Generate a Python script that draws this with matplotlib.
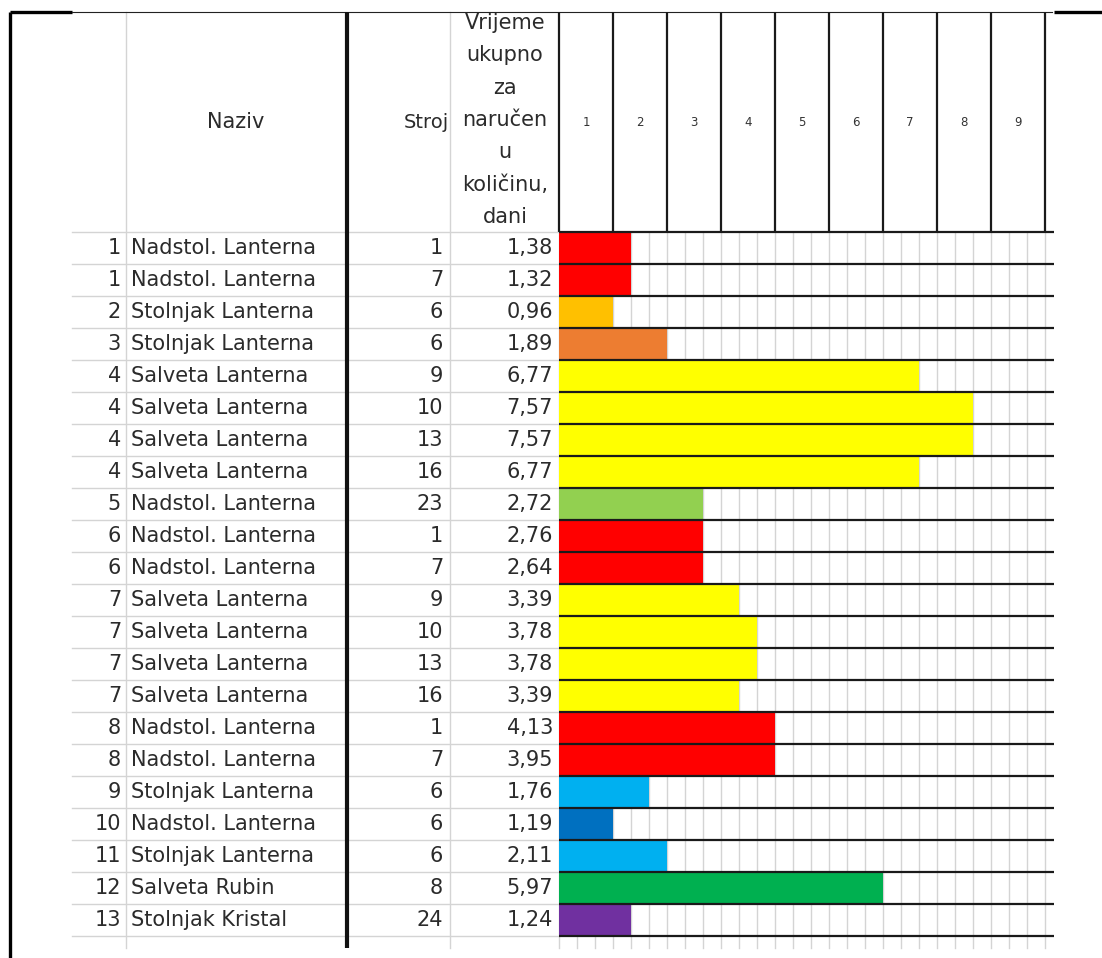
import matplotlib
matplotlib.use("Agg")
import matplotlib.pyplot as plt
import matplotlib.transforms as mtransforms

# ---------------- data ----------------
row_nums = [1, 1, 2, 3, 4, 4, 4, 4, 5, 6, 6, 7, 7, 7, 7, 8, 8, 9, 10, 11, 12, 13]
names = ["Nadstol. Lanterna", "Nadstol. Lanterna", "Stolnjak Lanterna", "Stolnjak Lanterna",
         "Salveta Lanterna", "Salveta Lanterna", "Salveta Lanterna", "Salveta Lanterna",
         "Nadstol. Lanterna", "Nadstol. Lanterna", "Nadstol. Lanterna",
         "Salveta Lanterna", "Salveta Lanterna", "Salveta Lanterna", "Salveta Lanterna",
         "Nadstol. Lanterna", "Nadstol. Lanterna", "Stolnjak Lanterna", "Nadstol. Lanterna",
         "Stolnjak Lanterna", "Salveta Rubin", "Stolnjak Kristal"]
machines = [1, 7, 6, 6, 9, 10, 13, 16, 23, 1, 7, 9, 10, 13, 16, 1, 7, 6, 6, 6, 8, 24]
durations = [1.38, 1.32, 0.96, 1.89, 6.77, 7.57, 7.57, 6.77, 2.72, 2.76, 2.64,
             3.39, 3.78, 3.78, 3.39, 4.13, 3.95, 1.76, 1.19, 2.11, 5.97, 1.24]
# bar length in shifts (1/3 day cells) as shaded in the sheet
shifts = [4, 4, 3, 6, 20, 23, 23, 20, 8, 8, 8, 10, 11, 11, 10, 12, 12, 5, 3, 6, 18, 4]
bar_colors = ["#FF0000", "#FF0000", "#FFC000", "#ED7D31",
              "#FFFF00", "#FFFF00", "#FFFF00", "#FFFF00",
              "#92D050", "#FF0000", "#FF0000",
              "#FFFF00", "#FFFF00", "#FFFF00", "#FFFF00",
              "#FF0000", "#FF0000", "#00B0F0", "#0070C0", "#00B0F0",
              "#00B050", "#7030A0"]
days = [1, 2, 3, 4, 5, 6, 7, 8, 9]
header_naziv = "Naziv"
header_stroj = "Stroj"
header_time = ["Vrijeme", "ukupno", "za", "naručen", "u", "količinu,", "dani"]

# ---------------- layout ----------------
W, H = 1102, 958
FONT = "DejaVu Sans"
FS = 15
TXT = "#2b2b2b"
GRAY = "#d4d4d4"
n = len(names)
top_px, head_bot_px, row_h = 12, 232, 32
g_left, g_right = 559, 1045
body_bot_px = head_bot_px + n * row_h
ext_px = 948

fig = plt.figure(figsize=(W / 100, H / 100), dpi=100)
base = fig.add_axes([0, 0, 1, 1])
base.set_xlim(0, W)
base.set_ylim(H, 0)
base.axis("off")

gax = fig.add_axes([g_left / W, 1 - body_bot_px / H, (g_right - g_left) / W, n * row_h / H])
gax.set_facecolor("none")
gax.set_xlim(0, len(days))
gax.set_ylim(n, 0)
gax.axis("off")

px_per_day = (g_right - g_left) / len(days)
px_per_row = row_h

# frame
base.plot([10, 10], [top_px, H], color="black", lw=2.4, solid_capstyle="butt")
base.plot([10, 72], [top_px, top_px], color="black", lw=2.4, solid_capstyle="butt")
base.plot([72, 1052], [top_px, top_px], color="#222222", lw=0.8)
base.plot([1054, W], [top_px, top_px], color="black", lw=2.4, solid_capstyle="butt")

# table grid
for k in range(n + 1):
    y = head_bot_px + k * row_h
    base.plot([72, g_left], [y, y], color=GRAY, lw=1.0, zorder=1)
for x in (126, 450):
    base.plot([x, x], [top_px, ext_px], color=GRAY, lw=1.0, zorder=1)
base.plot([347, 347], [top_px, ext_px], color="#111111", lw=3.0, solid_capstyle="butt", zorder=3)

# header text
base.text(236, 122, header_naziv, ha="center", va="center", fontsize=FS, family=FONT, color=TXT)
base.text(426, 122, header_stroj, ha="center", va="center", fontsize=14, family=FONT, color=TXT)
for i, line in enumerate(header_time):
    base.text(505, 23 + i * 32.3, line, ha="center", va="center", fontsize=FS, family=FONT, color=TXT)

# table body text (x in pixels, y in gantt rows)
tr = mtransforms.blended_transform_factory(base.transData, gax.transData)
for i in range(n):
    yc = i + 0.5
    base.text(121, yc, str(row_nums[i]), transform=tr, ha="right", va="center",
              fontsize=FS, family=FONT, color=TXT)
    base.text(131, yc, names[i], transform=tr, ha="left", va="center",
              fontsize=FS, family=FONT, color=TXT)
    base.text(443, yc, str(machines[i]), transform=tr, ha="right", va="center",
              fontsize=FS, family=FONT, color=TXT)
    base.text(553, yc, f"{durations[i]:.2f}".replace(".", ","), transform=tr, ha="right",
              va="center", fontsize=FS, family=FONT, color=TXT)

# gantt body grid (light) under bars
ext_rows = (ext_px - head_bot_px) / px_per_row
for k in range(len(days) * 3 + 1):
    x = k / 3
    gax.plot([x, x], [0, ext_rows], color=GRAY, lw=1.0, zorder=1, clip_on=False)

# gantt bars
gax.barh([i + 0.5 for i in range(n)], [s / 3 for s in shifts], height=1.0, left=0,
         color=bar_colors, edgecolor="none", zorder=2)

# row separators (dark) over bars
x_ext = len(days) + 9 / px_per_day
for k in range(n + 1):
    gax.plot([0, x_ext], [k, k], color="#1a1a1a", lw=1.6, zorder=3, clip_on=False,
             solid_capstyle="butt")

# gantt header: day columns
hdr = mtransforms.blended_transform_factory(gax.transData, base.transData)
for k in range(len(days) + 1):
    base.plot([k, k], [top_px, head_bot_px], transform=hdr, color="#1a1a1a", lw=1.6,
              solid_capstyle="butt", zorder=3)
for d in days:
    base.text(d - 0.5, 122, str(d), transform=hdr, ha="center", va="center",
              fontsize=8.5, family=FONT, color="#333333")

fig.savefig("out.png", dpi=100, facecolor="white")
